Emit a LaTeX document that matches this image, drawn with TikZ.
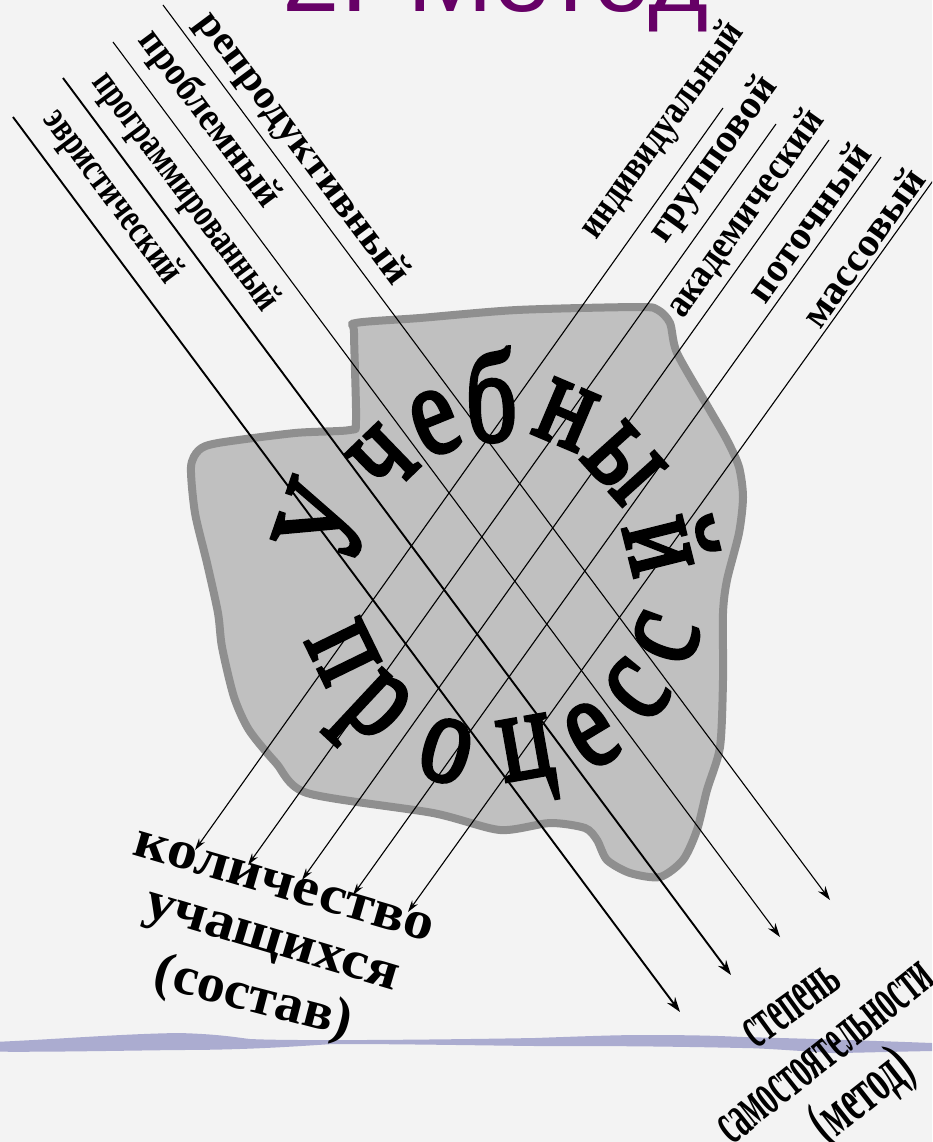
\documentclass[tikz,border=0pt]{standalone}
\usepackage{fontspec}
\setmainfont{Liberation Serif}
\newfontfamily\titlefont{Liberation Sans}
\newfontface\heavyserif[FakeBold=3]{Liberation Serif}
\usetikzlibrary{arrows.meta}
\definecolor{bgc}{HTML}{F3F3F3}
\definecolor{blobfill}{HTML}{C0C0C0}
\definecolor{blobline}{HTML}{8F8F8F}
\definecolor{titlec}{HTML}{660066}
\definecolor{barc}{HTML}{ABACD0}
\newcommand\cLetter[1]{\scalebox{1}[1.3]{#1}}
\begin{document}
\begin{tikzpicture}[x=1pt,y=-1pt,
  cl/.style={inner sep=0pt, font=\fontsize{100}{100}\heavyserif},
  thinln/.style={line width=1.1pt, -{Stealth[length=14pt,width=9pt]}},
  thickln/.style={line width=1.9pt, -{Stealth[length=15pt,width=10pt]}},
  upln/.style={line width=1.1pt, -{Stealth[length=12pt,width=7pt]}},
  lbl/.style={inner sep=0pt, font=\fontsize{40}{40}\selectfont\bfseries},
  botl/.style={inner sep=0pt, font=\fontsize{54}{54}\selectfont\bfseries},
  botr/.style={inner sep=0pt, font=\fontsize{62}{62}\selectfont\bfseries},
]
\useasboundingbox (0,0) rectangle (932,1142);
\clip (0,0) rectangle (932,1142);
\fill[bgc] (0,0) rectangle (932,1142);

% title
\node[font=\titlefont\fontsize{103}{103}\selectfont, text=titlec, anchor=base, inner sep=0pt] (title) at (496,11.7) {2. Метод};

% bottom bar
\fill[barc] (0,1041.7) .. controls (60,1039) and (120,1034) .. (178,1033)
  .. controls (220,1034) and (240,1038) .. (250,1039)
  .. controls (290,1041) and (420,1040) .. (535,1038)
  .. controls (590,1036) and (620,1035) .. (642,1035)
  .. controls (700,1035) and (720,1036) .. (743,1037)
  .. controls (820,1039) and (880,1041) .. (932,1043)
  -- (932,1051) .. controls (880,1052) and (850,1053) .. (832,1053)
  .. controls (800,1051) and (760,1048) .. (743,1048)
  .. controls (650,1046) and (600,1046) .. (535,1046)
  .. controls (450,1045) and (400,1044) .. (333,1044)
  .. controls (300,1046) and (250,1050) .. (178,1050)
  .. controls (100,1051) and (50,1052) .. (0,1051.7) -- cycle;

% blob
\draw[blobline, line width=8pt, fill=blobfill, line join=round]
  plot[smooth cycle, tension=0.45] coordinates {
  (356,323) (420,318) (517,310) (639,307) (658,310) (670,323) (677,353)
  (708,407) (727,440) (739,467) (743,497) (739,533) (727,580) (723,613)
  (723,680) (720,747) (707,790) (697,830) (683,860) (660,877) (630,873)
  (607,860) (597,840) (585,828) (550,823) (500,830) (433,813) (307,793)
  (276,763) (249,730) (234,697) (222,647) (218,613) (207,563) (195,513)
  (191,467) (199,450) (218,443) (295,433) (350,430) (356,420) (354,333)};

% central text
\node[cl, rotate=71]  (u1) at (323,522) {\cLetter{У}};
\node[cl, rotate=44]  (u2) at (383,460) {\cLetter{ч}};
\node[cl, rotate=22]  (u3) at (435,423) {\cLetter{е}};
\node[cl, rotate=2]   (u4) at (491,395) {\cLetter{б}};
\node[cl, rotate=-23] (u5) at (566,415) {\cLetter{н}};
\node[cl, rotate=-48] (u6) at (624,463) {\cLetter{ы}};
\node[cl, rotate=-76] (u7) at (672,543) {\cLetter{й}};
\node[cl, rotate=-64] (p1) at (343,652) {\cLetter{п}};
\node[cl, rotate=-43] (p2) at (369,715) {\cLetter{р}};
\node[cl, rotate=-16] (p3) at (446,751) {\cLetter{о}};
\node[cl, rotate=10]  (p4) at (528,760) {\cLetter{ц}};
\node[cl, rotate=31]  (p5) at (592,735) {\cLetter{е}};
\node[cl, rotate=51]  (p6) at (637,690) {\cLetter{с}};
\node[cl, rotate=70]  (p7) at (666,638) {\cLetter{с}};

% descending lines (method)
\coordinate (d1s) at (163,5);   \coordinate (d1e) at (830,900);
\coordinate (d2s) at (113,42);  \coordinate (d2e) at (780,937);
\coordinate (d3s) at (63,78);   \coordinate (d3e) at (731,975);
\coordinate (d4s) at (13,117);  \coordinate (d4e) at (680,1012);
\draw[thinln]  (d1s) -- (d1e);
\draw[thinln]  (d2s) -- (d2e);
\draw[thickln] (d3s) -- (d3e);
\draw[thickln] (d4s) -- (d4e);

% ascending lines (group size)
\coordinate (a1s) at (723,108); \coordinate (a1e) at (195,850);
\coordinate (a2s) at (776,124); \coordinate (a2e) at (248,865);
\coordinate (a3s) at (829,140); \coordinate (a3e) at (302,880);
\coordinate (a4s) at (881,157); \coordinate (a4e) at (353,895);
\coordinate (a5s) at (940,171); \coordinate (a5e) at (408,912);
\draw[upln] (a1s) -- (a1e);
\draw[upln] (a2s) -- (a2e);
\draw[upln] (a3s) -- (a3e);
\draw[upln] (a4s) -- (a4e);
\draw[upln] (a5s) -- (a5e);

% labels of descending lines
\node[lbl, rotate=-53.3] (l1) at (302,149) {\resizebox{330pt}{\height}{репродуктивный}};
\node[lbl, rotate=-53.3] (l2) at (209,119) {\resizebox{212pt}{\height}{проблемный}};
\node[lbl, rotate=-53.3] (l3) at (185,192) {\resizebox{287pt}{\height}{программированный}};
\node[lbl, rotate=-53.3] (l4) at (112,197) {\resizebox{207pt}{\height}{эвристический}};

% labels of ascending lines
\node[lbl, rotate=54.5] (r1) at (663,131) {\resizebox{255pt}{\height}{индивидуальный}};
\node[lbl, rotate=54.5] (r2) at (714,160) {\resizebox{195pt}{\height}{групповой}};
\node[lbl, rotate=54.5] (r3) at (746,214) {\resizebox{245pt}{\height}{академический}};
\node[lbl, rotate=54.5] (r4) at (808,222) {\resizebox{185pt}{\height}{поточный}};
\node[lbl, rotate=54.5] (r5) at (863,247) {\resizebox{185pt}{\height}{массовый}};

% bottom left caption
\node[botl, rotate=-16.3] (k1) at (284,886) {\resizebox{310pt}{\height}{количество}};
\node[botl, rotate=-16.6] (k2) at (270,946) {\resizebox{263pt}{\height}{учащихся}};
\node[botl, rotate=-14.6] (k3) at (253,999) {\resizebox{202pt}{\height}{(состав)}};

% bottom right caption
\node[botr, rotate=36] (s1) at (792,1006) {\resizebox{108pt}{\height}{степень}};
\node[botr, rotate=38.4] (s2) at (826,1053) {\resizebox{262pt}{\height}{самостоятельности}};
\node[botr, rotate=38.2] (s3) at (863,1098) {\resizebox{114pt}{\height}{(метод)}};
\end{tikzpicture}
\end{document}
